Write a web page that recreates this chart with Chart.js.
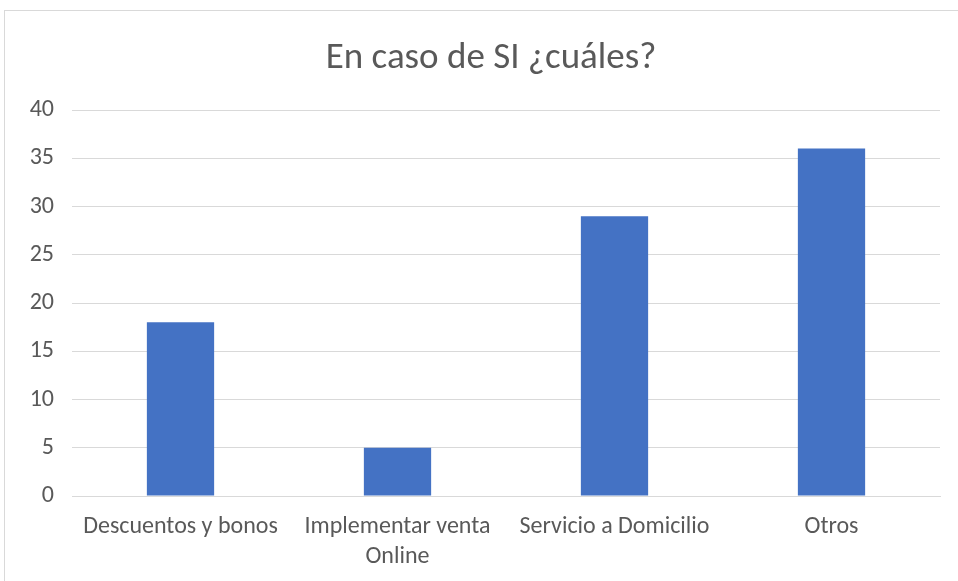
<!DOCTYPE html>
<html>
<head>
<meta charset="utf-8">
<script src="https://cdn.jsdelivr.net/npm/chart.js@4/dist/chart.umd.min.js"></script>
<style>
html,body{margin:0;padding:0;background:#fff;overflow:hidden;}
#frame{position:absolute;left:4px;top:10px;width:970px;height:590px;border:1px solid #d9d9d9;box-sizing:border-box;}
#wrap{position:absolute;left:0;top:0;width:958px;height:581px;}
</style>
</head>
<body>
<div id="frame"></div>
<div id="wrap"><canvas id="c" width="958" height="581"></canvas></div>
<script>
const title = "En caso de SI ¿cuáles?";
const categories = ["Descuentos y bonos", ["Implementar venta", "Online"], "Servicio a Domicilio", "Otros"];
const values = [18, 5, 29, 36];
const yTicks = [0, 5, 10, 15, 20, 25, 30, 35, 40];

const FONT = "Carlito, 'Liberation Sans Narrow', 'Arial Narrow', 'Open Sans', sans-serif";
const GREY = "#595959";

// shifts the title box so the title is centred like the reference
const titleShift = {
  id: 'titleShift',
  afterLayout(chart) {
    const tb = chart.titleBlock;
    if (tb) { tb.left = 42; tb.right = 940; }
  }
};

new Chart(document.getElementById('c'), {
  type: 'bar',
  data: {
    labels: categories,
    datasets: [{
      data: values,
      backgroundColor: '#4472C4',
      borderWidth: 0,
      categoryPercentage: 1,
      barPercentage: 0.31
    }]
  },
  plugins: [titleShift],
  options: {
    responsive: false,
    animation: false,
    devicePixelRatio: 1,
    layout: {padding: {left: 0, right: 18, top: 0, bottom: 0}},
    plugins: {
      legend: {display: false},
      tooltip: {enabled: false},
      title: {
        display: true,
        text: title,
        color: GREY,
        font: {family: FONT, size: 37, weight: 'normal', lineHeight: 1.2},
        padding: {top: 37, bottom: 28.6}
      }
    },
    scales: {
      x: {
        grid: {display: false, drawTicks: false},
        border: {display: true, color: '#d9d9d9', width: 1},
        ticks: {
          color: GREY,
          font: {family: FONT, size: 24, lineHeight: 1.25},
          padding: 16,
          maxRotation: 0,
          autoSkip: false
        },
        afterFit: s => { s.height = 85; }
      },
      y: {
        min: 0, max: 40,
        afterBuildTicks: s => { s.ticks = yTicks.map(v => ({value: v})); },
        grid: {color: '#d9d9d9', lineWidth: 1, drawTicks: false},
        border: {display: false},
        ticks: {
          color: GREY,
          font: {family: FONT, size: 24},
          padding: 18
        },
        afterFit: s => { s.width = 72; }
      }
    }
  }
});
</script>
</body>
</html>
